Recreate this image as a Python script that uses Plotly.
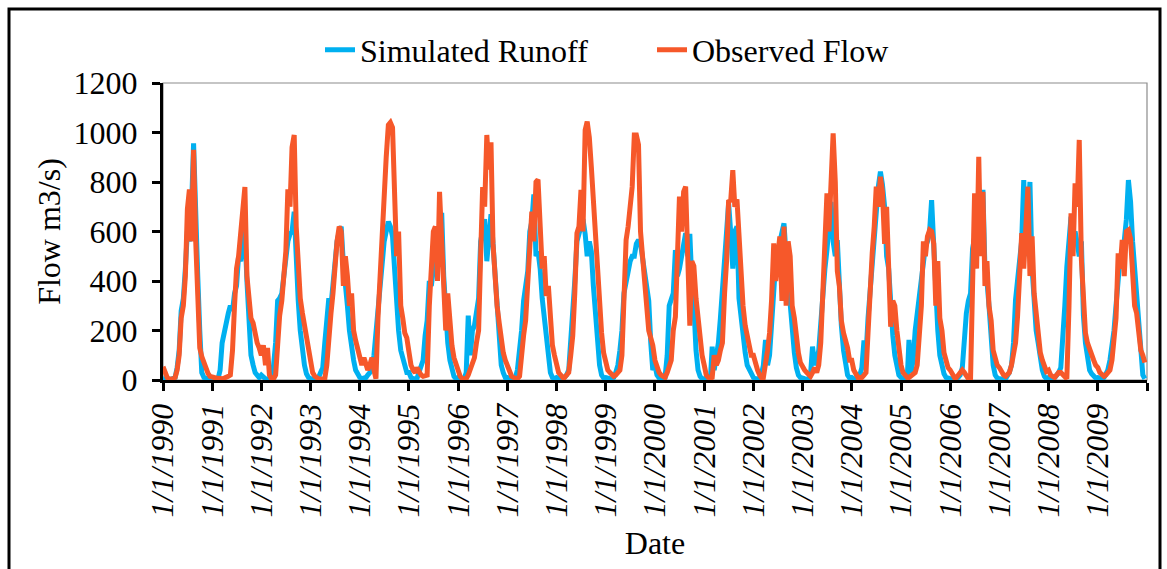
import plotly.graph_objects as go

# ---------------- data (semi-monthly readings: 1st and 16th of each month) ----------------
years = list(range(1990, 2010))
days_of_month = [1, 16]

simulated_runoff = [
    # 1990
    5, 3, 2, 2, 3, 5, 10, 50, 120, 280, 330, 450, 600, 560, 700, 956, 570, 420, 200, 30, 10, 5, 5, 5,
    # 1991
    5, 3, 5, 10, 40, 150, 200, 250, 270, 300, 280, 350, 380, 500, 480, 560, 600, 400, 250, 100, 60, 30, 20, 10,
    # 1992
    20, 10, 5, 3, 5, 10, 60, 150, 320, 330, 350, 420, 470, 560, 590, 600, 680, 430, 320, 200, 120, 60, 25, 10,
    # 1993
    5, 3, 3, 5, 10, 30, 50, 150, 270, 330, 300, 400, 450, 560, 600, 620, 470, 400, 300, 200, 120, 80, 40, 20,
    # 1994
    10, 5, 5, 10, 20, 30, 40, 100, 200, 300, 390, 450, 560, 600, 640, 620, 580, 450, 300, 200, 120, 90, 50, 30,
    # 1995
    30, 10, 5, 3, 5, 30, 60, 80, 180, 240, 400, 380, 450, 520, 560, 620, 675, 420, 250, 150, 80, 40, 15, 5,
    # 1996
    10, 5, 3, 5, 30, 260, 100, 200, 220, 280, 330, 560, 600, 650, 480, 560, 670, 550, 420, 250, 120, 60, 30, 10,
    # 1997
    10, 5, 3, 5, 10, 40, 120, 200, 320, 380, 440, 600, 640, 750, 500, 520, 450, 330, 250, 150, 70, 30, 10, 5,
    # 1998
    10, 5, 3, 5, 10, 20, 40, 150, 300, 400, 560, 590, 620, 650, 590, 500, 560, 520, 380, 250, 150, 60, 20, 8,
    # 1999
    10, 5, 5, 5, 10, 30, 60, 120, 200, 350, 400, 450, 480, 500, 500, 550, 566, 550, 500, 450, 400, 320, 150, 40,
    # 2000
    60, 20, 8, 5, 5, 10, 100, 300, 330, 350, 525, 420, 450, 500, 540, 593, 500, 590, 400, 300, 120, 40, 15, 5,
    # 2001
    5, 3, 3, 5, 135, 40, 100, 150, 250, 370, 500, 560, 714, 600, 450, 600, 620, 330, 250, 180, 110, 60, 40, 20,
    # 2002
    10, 5, 3, 5, 20, 60, 162, 60, 100, 230, 430, 480, 520, 560, 590, 633, 500, 400, 260, 200, 110, 50, 20, 10,
    # 2003
    10, 5, 3, 5, 20, 135, 60, 80, 120, 250, 320, 450, 525, 650, 720, 560, 500, 565, 380, 220, 120, 50, 20, 8,
    # 2004
    10, 5, 3, 5, 20, 50, 160, 100, 250, 350, 470, 600, 700, 780, 842, 790, 700, 500, 450, 300, 180, 100, 50, 20,
    # 2005
    10, 5, 3, 5, 162, 30, 80, 200, 270, 350, 400, 500, 540, 560, 600, 727, 500, 300, 200, 100, 50, 25, 10, 5,
    # 2006
    5, 3, 3, 5, 10, 20, 50, 200, 270, 320, 350, 530, 566, 620, 600, 680, 768, 450, 400, 300, 150, 60, 20, 8,
    # 2007
    5, 3, 3, 5, 15, 30, 60, 150, 323, 400, 450, 566, 808, 500, 650, 800, 450, 320, 200, 150, 80, 40, 15, 5,
    # 2008
    10, 5, 5, 10, 20, 30, 50, 150, 300, 458, 550, 660, 560, 600, 553, 500, 560, 260, 150, 80, 40, 25, 15, 8,
    # 2009
    10, 5, 5, 10, 20, 40, 80, 140, 200, 300, 430, 500, 480, 550, 650, 808, 720, 560, 450, 350, 250, 100, 20, 5,
]

observed_flow = [
    # 1990
    54, 30, 10, 5, 5, 3, 10, 40, 100, 250, 300, 420, 690, 770, 560, 930, 560, 300, 130, 95, 65, 40, 27, 15,
    # 1991
    15, 10, 8, 6, 5, 5, 8, 10, 15, 20, 120, 300, 450, 500, 600, 700, 780, 420, 350, 250, 230, 180, 150, 130,
    # 1992
    100, 140, 60, 130, 20, 5, 5, 20, 190, 260, 320, 450, 520, 770, 700, 940, 990, 620, 420, 330, 270, 220, 180, 120,
    # 1993
    60, 30, 15, 8, 5, 3, 3, 5, 60, 180, 270, 350, 500, 560, 620, 600, 380, 500, 420, 300, 350, 200, 160, 120,
    # 1994
    80, 60, 90, 70, 40, 60, 90, 40, 5, 250, 450, 620, 754, 900, 1030, 1040, 1020, 700, 500, 600, 300, 250, 190, 170,
    # 1995
    100, 60, 40, 30, 50, 30, 20, 15, 15, 20, 300, 500, 600, 620, 400, 760, 550, 300, 200, 350, 220, 140, 90, 60,
    # 1996
    40, 15, 5, 3, 5, 20, 40, 70, 90, 150, 200, 500, 780, 700, 990, 850, 960, 550, 380, 300, 230, 160, 110, 80,
    # 1997
    60, 30, 15, 10, 5, 5, 15, 120, 180, 240, 400, 500, 680, 560, 800, 810, 600, 450, 500, 340, 380, 220, 140, 100,
    # 1998
    60, 30, 20, 10, 10, 20, 30, 100, 180, 350, 593, 620, 768, 600, 1010, 1044, 980, 860, 727, 560, 380, 300, 190, 110,
    # 1999
    70, 40, 30, 20, 15, 20, 30, 40, 100, 350, 566, 620, 700, 780, 990, 990, 950, 600, 500, 380, 260, 200, 170, 140,
    # 2000
    80, 50, 30, 20, 15, 10, 30, 50, 80, 200, 256, 500, 741, 600, 760, 781, 450, 220, 480, 460, 330, 250, 150, 100,
    # 2001
    60, 20, 10, 5, 10, 100, 60, 80, 120, 150, 350, 480, 727, 720, 848, 700, 730, 560, 420, 300, 220, 170, 130, 100,
    # 2002
    100, 60, 40, 20, 10, 10, 60, 120, 190, 323, 552, 400, 500, 580, 320, 620, 300, 560, 500, 300, 250, 150, 110, 70,
    # 2003
    50, 40, 30, 20, 15, 30, 50, 30, 60, 150, 404, 550, 754, 600, 800, 997, 800, 440, 380, 240, 190, 160, 130, 80,
    # 2004
    80, 40, 20, 10, 10, 10, 20, 30, 190, 400, 512, 620, 781, 700, 821, 760, 550, 700, 380, 215, 320, 300, 200, 120,
    # 2005
    60, 30, 15, 10, 10, 15, 20, 30, 60, 200, 300, 560, 500, 580, 606, 600, 550, 300, 480, 250, 200, 110, 70, 50,
    # 2006
    40, 20, 10, 10, 20, 30, 40, 30, 20, 5, 5, 300, 754, 450, 902, 500, 760, 380, 480, 300, 240, 120, 80, 60,
    # 2007
    50, 30, 20, 15, 20, 30, 60, 100, 150, 256, 400, 593, 450, 600, 781, 420, 580, 350, 256, 180, 110, 80, 50, 35,
    # 2008
    40, 20, 15, 10, 20, 30, 30, 20, 10, 5, 300, 674, 500, 795, 700, 970, 485, 350, 190, 150, 120, 100, 80, 60,
    # 2009
    50, 30, 20, 15, 20, 30, 40, 80, 150, 250, 512, 450, 566, 420, 600, 606, 570, 400, 300, 270, 160, 120, 100, 70,
]

tick_years = list(range(1990, 2011))
tick_text = [f"1/1/{y}" for y in range(1990, 2010)] + [""]

series_names = ["Simulated Runoff", "Observed Flow"]
series_colors = ["#00B0F0", "#F6582A"]

# ---------------- build ----------------
dates = [f"{y}-{m:02d}-{d:02d}" for y in years for m in range(1, 13) for d in days_of_month]
tick_vals = [f"{y}-01-01" for y in tick_years]

FONT = "Liberation Serif, Times New Roman, serif"
FS = 32
W, H = 1167, 569
L, R, T, B = 163, 20, 83, 189
pw, ph = W - L - R, H - T - B

fig = go.Figure()
for name, vals, col in zip(series_names, [simulated_runoff, observed_flow], series_colors):
    fig.add_trace(go.Scatter(x=dates, y=vals, mode="lines", name=name,
                             line=dict(color=col, width=5)))

def px_x(p):
    return (p - L) / pw

def px_y(p):
    return (H - B - p) / ph

fig.update_layout(
    width=W, height=H,
    margin=dict(l=L, r=R, t=T, b=B, autoexpand=False),
    paper_bgcolor="white", plot_bgcolor="white",
    font=dict(family=FONT, size=FS, color="black"),
    showlegend=True,
    legend=dict(orientation="h", x=px_x(320), xanchor="left", y=px_y(50), yanchor="middle",
                font=dict(family=FONT, size=FS, color="black"), bgcolor="rgba(0,0,0,0)",
                entrywidth=287, entrywidthmode="pixels",
                itemwidth=30, tracegroupgap=0),
    xaxis=dict(type="date", range=["1990-01-01", "2010-01-01"],
               tickmode="array", tickvals=tick_vals, ticktext=tick_text,
               tickangle=-90, tickfont=dict(family=FONT, size=FS, style="italic"),
               showgrid=False, zeroline=False,
               showline=True, linecolor="black", linewidth=3,
               ticks="outside", ticklen=8, tickwidth=3, tickcolor="black",
               title=dict(text="Date", font=dict(family=FONT, size=FS), standoff=16)),
    yaxis=dict(range=[0, 1200], tickmode="array", tickvals=[0, 200, 400, 600, 800, 1000, 1200],
               showgrid=False, zeroline=False,
               showline=True, linecolor="black", linewidth=3,
               ticks="outside", ticklen=8, tickwidth=3, tickcolor="black",
               ticklabelstandoff=8,
               tickfont=dict(family=FONT, size=FS),
               title=dict(text="Flow m3/s)", font=dict(family=FONT, size=FS), standoff=4)),
    shapes=[
        # thin grey plot-area border (top/right)
        dict(type="rect", xref="paper", yref="paper", x0=0, y0=0, x1=1, y1=1,
             line=dict(color="#8C8C8C", width=1.2), layer="below"),
        # outer chart frame
        dict(type="rect", xref="paper", yref="paper",
             x0=px_x(9), x1=px_x(1160), y0=px_y(9), y1=px_y(600),
             line=dict(color="black", width=3), layer="above"),
    ],
)

fig.write_html("out.html")
